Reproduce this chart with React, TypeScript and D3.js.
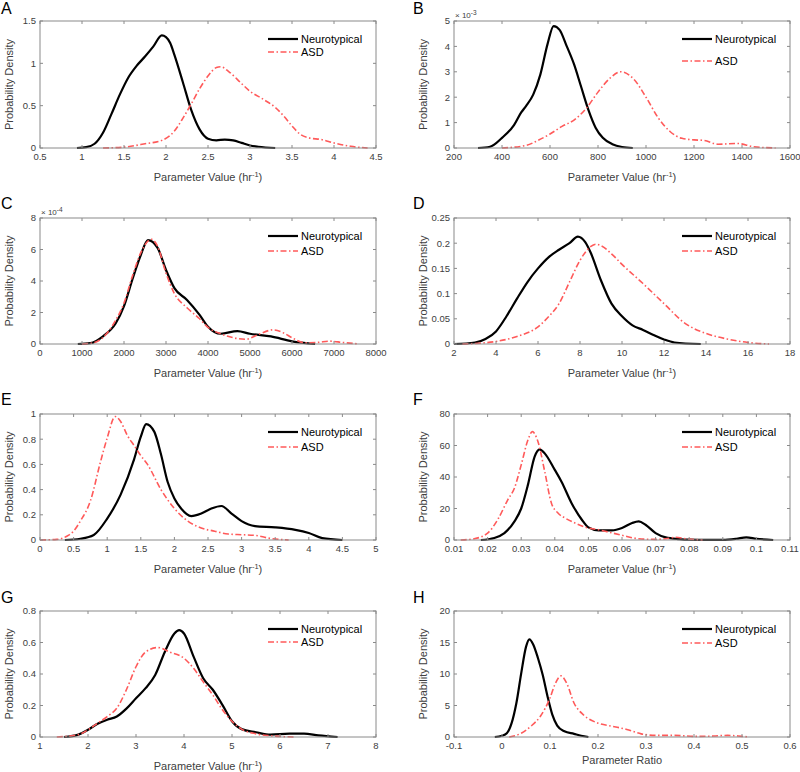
import React from 'react';
import * as d3 from 'd3';

// ---------- data ----------
const groupNames = ['Neurotypical', 'ASD'];
const panelLetters = ['A', 'B', 'C', 'D', 'E', 'F', 'G', 'H'];
const xLabelMain = ['Parameter Value (hr', 'Parameter Value (hr', 'Parameter Value (hr', 'Parameter Value (hr',
  'Parameter Value (hr', 'Parameter Value (hr', 'Parameter Value (hr', 'Parameter Ratio'];
const xLabelHasUnit = [true, true, true, true, true, true, true, false];
const yLabel = 'Probability Density';
const yExponents = [null, '-3', '-4', null, null, null, null, null];

const xDomains = [[0.5, 4.5], [200, 1600], [0, 8000], [2, 18], [0, 5], [0.01, 0.11], [1, 8], [-0.1, 0.6]];
const yDomains = [[0, 1.5], [0, 5], [0, 8], [0, 0.25], [0, 1], [0, 80], [0, 0.8], [0, 20]];

const xTickLabels = [
  ['0.5', '1', '1.5', '2', '2.5', '3', '3.5', '4', '4.5'],
  ['200', '400', '600', '800', '1000', '1200', '1400', '1600'],
  ['0', '1000', '2000', '3000', '4000', '5000', '6000', '7000', '8000'],
  ['2', '4', '6', '8', '10', '12', '14', '16', '18'],
  ['0', '0.5', '1', '1.5', '2', '2.5', '3', '3.5', '4', '4.5', '5'],
  ['0.01', '0.02', '0.03', '0.04', '0.05', '0.06', '0.07', '0.08', '0.09', '0.1', '0.11'],
  ['1', '2', '3', '4', '5', '6', '7', '8'],
  ['-0.1', '0', '0.1', '0.2', '0.3', '0.4', '0.5', '0.6'],
];
const yTickLabels = [
  ['0', '0.5', '1', '1.5'],
  ['0', '1', '2', '3', '4', '5'],
  ['0', '2', '4', '6', '8'],
  ['0', '0.05', '0.1', '0.15', '0.2', '0.25'],
  ['0', '0.2', '0.4', '0.6', '0.8', '1'],
  ['0', '20', '40', '60', '80'],
  ['0', '0.2', '0.4', '0.6', '0.8'],
  ['0', '5', '10', '15', '20'],
];

// Panel A
const ntA = [[0.94, 0], [1.05, 0.01], [1.15, 0.05], [1.25, 0.18], [1.35, 0.4], [1.45, 0.63], [1.55, 0.83], [1.65, 0.97], [1.75, 1.08], [1.85, 1.2], [1.95, 1.33], [2.0, 1.31], [2.05, 1.24], [2.1, 1.1], [2.2, 0.78], [2.3, 0.45], [2.4, 0.22], [2.5, 0.11], [2.6, 0.09], [2.7, 0.1], [2.8, 0.09], [2.9, 0.06], [3.0, 0.03], [3.1, 0.015], [3.3, 0]];
const asdA = [[1.25, 0], [1.5, 0.01], [1.75, 0.05], [1.95, 0.09], [2.1, 0.2], [2.2, 0.35], [2.3, 0.52], [2.4, 0.7], [2.5, 0.85], [2.6, 0.95], [2.65, 0.96], [2.75, 0.9], [2.9, 0.76], [3.0, 0.67], [3.15, 0.58], [3.3, 0.48], [3.4, 0.38], [3.5, 0.26], [3.6, 0.16], [3.7, 0.12], [3.85, 0.1], [4.0, 0.06], [4.2, 0.02], [4.4, 0]];
// Panel B (x 10^-3)
const ntB = [[300, 0], [350, 0.05], [400, 0.4], [450, 0.9], [480, 1.4], [500, 1.65], [530, 2.1], [560, 2.9], [590, 4.1], [615, 4.8], [640, 4.65], [670, 4.0], [700, 3.3], [730, 2.4], [760, 1.5], [790, 0.8], [820, 0.4], [860, 0.15], [900, 0.04], [945, 0]];
const asdB = [[400, 0], [500, 0.1], [550, 0.3], [600, 0.55], [650, 0.85], [700, 1.1], [750, 1.55], [800, 2.2], [850, 2.75], [895, 3.0], [950, 2.7], [1000, 2.0], [1050, 1.2], [1100, 0.65], [1150, 0.38], [1200, 0.32], [1240, 0.3], [1300, 0.15], [1380, 0.18], [1450, 0.05], [1540, 0]];
// Panel C (x 10^-4)
const ntC = [[900, 0], [1200, 0.05], [1500, 0.49], [1800, 1.3], [2000, 2.4], [2200, 4.1], [2400, 5.65], [2570, 6.6], [2800, 6.1], [3000, 4.7], [3200, 3.55], [3500, 2.8], [3800, 1.85], [4000, 1.1], [4300, 0.65], [4700, 0.82], [5000, 0.65], [5500, 0.48], [6000, 0.17], [6550, 0]];
const asdC = [[1000, 0], [1300, 0.1], [1600, 0.7], [1800, 1.5], [2000, 2.6], [2200, 4.3], [2400, 5.8], [2650, 6.65], [2800, 6.2], [3000, 4.5], [3200, 3.2], [3500, 2.3], [3800, 1.6], [4000, 1.05], [4300, 0.65], [4600, 0.4], [4900, 0.3], [5200, 0.6], [5550, 0.9], [5800, 0.7], [6000, 0.4], [6300, 0.08], [6600, 0.1], [6900, 0.18], [7200, 0.1], [7600, 0]];
// Panel D
const ntD = [[2, 0], [3, 0.003], [3.5, 0.01], [4, 0.025], [4.5, 0.055], [5, 0.09], [5.5, 0.123], [6, 0.15], [6.5, 0.172], [7, 0.187], [7.5, 0.2], [7.9, 0.213], [8.25, 0.202], [8.5, 0.182], [9, 0.126], [9.5, 0.08], [10, 0.055], [10.5, 0.037], [11, 0.028], [11.5, 0.018], [12, 0.009], [12.5, 0.003], [13.75, 0]];
const asdD = [[2.4, 0], [3, 0.001], [4, 0.005], [5, 0.015], [6, 0.034], [6.5, 0.054], [7, 0.08], [7.5, 0.123], [8, 0.166], [8.5, 0.193], [8.75, 0.198], [9, 0.195], [9.5, 0.179], [10, 0.158], [11, 0.12], [12, 0.08], [13, 0.041], [14, 0.021], [15, 0.01], [16, 0.003], [17, 0]];
// Panel E
const ntE = [[0.37, 0], [0.6, 0.01], [0.8, 0.04], [1.0, 0.17], [1.2, 0.36], [1.4, 0.64], [1.5, 0.82], [1.58, 0.92], [1.7, 0.86], [1.8, 0.68], [1.9, 0.46], [2.0, 0.33], [2.1, 0.25], [2.25, 0.19], [2.4, 0.21], [2.55, 0.25], [2.7, 0.27], [2.85, 0.21], [3.0, 0.15], [3.2, 0.11], [3.5, 0.1], [3.8, 0.08], [4.0, 0.055], [4.2, 0.015], [4.5, 0]];
const asdE = [[0.0, 0], [0.25, 0.005], [0.4, 0.03], [0.5, 0.07], [0.6, 0.15], [0.75, 0.31], [0.9, 0.62], [1.0, 0.81], [1.12, 0.98], [1.2, 0.94], [1.3, 0.83], [1.4, 0.75], [1.5, 0.67], [1.6, 0.6], [1.8, 0.4], [2.0, 0.25], [2.2, 0.15], [2.4, 0.095], [2.6, 0.07], [2.8, 0.047], [3.0, 0.042], [3.2, 0.037], [3.4, 0.015], [3.7, 0]];
// Panel F
const ntF = [[0.018, 0], [0.022, 1.3], [0.025, 4.4], [0.028, 11.8], [0.03, 20], [0.032, 35], [0.034, 53], [0.0355, 57.6], [0.037, 55], [0.04, 44.5], [0.042, 37], [0.045, 23.4], [0.048, 13], [0.05, 8], [0.053, 6.1], [0.057, 6.1], [0.06, 7.6], [0.063, 10.8], [0.065, 11.8], [0.067, 9.7], [0.07, 4.4], [0.073, 1.7], [0.077, 0.6], [0.08, 0.2], [0.085, 0.05], [0.09, 0.1], [0.094, 0.8], [0.097, 1.7], [0.1, 0.8], [0.105, 0]];
const asdF = [[0.012, 0], [0.016, 0.8], [0.02, 4.4], [0.023, 12.9], [0.026, 25.5], [0.028, 33], [0.03, 47.7], [0.032, 63.5], [0.0333, 68.8], [0.035, 62.4], [0.037, 43.5], [0.039, 23.4], [0.041, 17], [0.043, 14], [0.046, 10.8], [0.05, 7.6], [0.053, 6.5], [0.056, 5], [0.06, 3], [0.065, 0.8], [0.07, 0.4], [0.073, 0.8], [0.076, 1.7], [0.079, 0.8], [0.084, 0]];
// Panel G
const ntG = [[1.5, 0], [1.8, 0.015], [2.0, 0.046], [2.2, 0.084], [2.4, 0.11], [2.6, 0.13], [2.8, 0.18], [3.0, 0.246], [3.2, 0.31], [3.4, 0.394], [3.6, 0.54], [3.8, 0.657], [3.9, 0.678], [4.0, 0.657], [4.2, 0.51], [4.4, 0.373], [4.6, 0.3], [4.8, 0.204], [5.0, 0.1], [5.2, 0.05], [5.5, 0.03], [5.8, 0.015], [6.2, 0.021], [6.5, 0.021], [6.8, 0.01], [7.2, 0]];
const asdG = [[1.35, 0], [1.8, 0.015], [2.0, 0.046], [2.2, 0.088], [2.4, 0.13], [2.6, 0.183], [2.8, 0.3], [3.0, 0.446], [3.2, 0.54], [3.45, 0.568], [3.7, 0.54], [4.0, 0.5], [4.2, 0.436], [4.4, 0.35], [4.6, 0.267], [4.8, 0.173], [5.0, 0.1], [5.2, 0.05], [5.5, 0.02], [5.8, 0.008], [6.3, 0]];
// Panel H
const ntH = [[-0.015, 0], [0, 0.2], [0.01, 0.6], [0.02, 2.2], [0.03, 5.4], [0.04, 10.1], [0.05, 14.3], [0.057, 15.5], [0.065, 14.7], [0.075, 12.5], [0.085, 9.8], [0.095, 6.4], [0.105, 3.5], [0.115, 1.8], [0.13, 0.9], [0.15, 0.5], [0.165, 0.2], [0.18, 0]];
const asdH = [[0.015, 0], [0.04, 0.6], [0.06, 1.7], [0.08, 3.3], [0.1, 6.2], [0.11, 8.3], [0.123, 9.7], [0.135, 8.5], [0.15, 5.4], [0.17, 3.5], [0.2, 2.2], [0.23, 1.7], [0.26, 1.2], [0.29, 0.5], [0.32, 0.26], [0.36, 0.26], [0.4, 0.1], [0.44, 0.15], [0.47, 0.26], [0.5, 0.1], [0.515, 0]];

const ntSeries = [ntA, ntB, ntC, ntD, ntE, ntF, ntG, ntH];
const asdSeries = [asdA, asdB, asdC, asdD, asdE, asdF, asdG, asdH];

// ---------- layout ----------
const colLR = [[40, 376], [454, 790]];
const rowTB = [[21, 148], [218, 344], [414, 540], [611, 737]];
const letterBaselines = [14, 209, 405, 603];
const legendRowOffsets = [[18, 31], [18, 40], [18, 33], [18, 33], [18, 33], [18, 33], [18, 31], [18, 32]];

const FONT = '"Liberation Sans", Arial, Helvetica, sans-serif';
const TEXT = '#404040';
const BOX = '#8a8a8a';
const RED = '#ff5a5a';
const DASH = '6,2.5,1.5,2.5';

function Panel({ i }: { i: number }) {
  const [left, right] = colLR[i % 2];
  const [top, bottom] = rowTB[Math.floor(i / 2)];
  const x = d3.scaleLinear().domain(xDomains[i]).range([left, right]);
  const y = d3.scaleLinear().domain(yDomains[i]).range([bottom, top]);
  const xt = xTickLabels[i].map((s) => ({ v: +s, s }));
  const yt = yTickLabels[i].map((s) => ({ v: +s, s }));
  const line = d3.line<number[]>().x((d) => x(d[0])).y((d) => y(d[1])).curve(d3.curveMonotoneX);
  const tl = 3;
  const cy = (top + bottom) / 2;
  const cx = (left + right) / 2;
  const [lo1, lo2] = legendRowOffsets[i];
  const letterX = i % 2 === 0 ? 1 : 413;
  return (
    <g fontFamily={FONT}>
      <text x={letterX} y={letterBaselines[Math.floor(i / 2)]} fontSize={16} fill="#000">{panelLetters[i]}</text>
      {/* curves */}
      <path d={line(ntSeries[i] as any) || ''} fill="none" stroke="#000" strokeWidth={2.2} strokeLinejoin="round" />
      <path d={line(asdSeries[i] as any) || ''} fill="none" stroke={RED} strokeWidth={1.6} strokeDasharray={DASH} />
      {/* box */}
      <rect x={left} y={top} width={right - left} height={bottom - top} fill="none" stroke={BOX} strokeWidth={1} />
      {xt.map((t, k) => (
        <g key={'x' + k}>
          <line x1={x(t.v)} x2={x(t.v)} y1={bottom} y2={bottom - tl} stroke={BOX} />
          <line x1={x(t.v)} x2={x(t.v)} y1={top} y2={top + tl} stroke={BOX} />
          <text x={x(t.v)} y={bottom + 12} fontSize={9.5} fill={TEXT} textAnchor="middle">{t.s}</text>
        </g>
      ))}
      {yt.map((t, k) => (
        <g key={'y' + k}>
          <line x1={left} x2={left + tl} y1={y(t.v)} y2={y(t.v)} stroke={BOX} />
          <line x1={right} x2={right - tl} y1={y(t.v)} y2={y(t.v)} stroke={BOX} />
          <text x={left - 4} y={y(t.v) + 3.4} fontSize={9.5} fill={TEXT} textAnchor="end">{t.s}</text>
        </g>
      ))}
      {yExponents[i] && (
        <text x={left + 1} y={top - 3} fontSize={8} fill={TEXT}>
          × 10<tspan dy={-3.5} fontSize={6.5}>{yExponents[i]}</tspan>
        </text>
      )}
      {/* axis labels */}
      <text x={cx} y={bottom + (xLabelHasUnit[i] ? 33 : 27)} fontSize={11} fill={TEXT} textAnchor="middle">
        {xLabelMain[i]}
        {xLabelHasUnit[i] && <tspan dy={-4.5} fontSize={7.5}>-1</tspan>}
        {xLabelHasUnit[i] && <tspan dy={4.5}>)</tspan>}
      </text>
      <text transform={`translate(${left - 27},${cy}) rotate(-90)`} fontSize={11} fill={TEXT} textAnchor="middle">{yLabel}</text>
      {/* legend */}
      <line x1={right - 108} x2={right - 78} y1={top + lo1} y2={top + lo1} stroke="#000" strokeWidth={2.2} />
      <text x={right - 75} y={top + lo1 + 4} fontSize={11} fill="#000">{groupNames[0]}</text>
      <line x1={right - 108} x2={right - 78} y1={top + lo2} y2={top + lo2} stroke={RED} strokeWidth={1.6} strokeDasharray={DASH} />
      <text x={right - 75} y={top + lo2 + 4} fontSize={11} fill="#000">{groupNames[1]}</text>
    </g>
  );
}

export default function App() {
  return (
    <svg width={800} height={772} style={{ position: 'absolute', left: 0, top: 0, background: '#fff' }}>
      <rect width={800} height={772} fill="#fff" />
      {panelLetters.map((_, i) => <Panel key={i} i={i} />)}
    </svg>
  );
}
